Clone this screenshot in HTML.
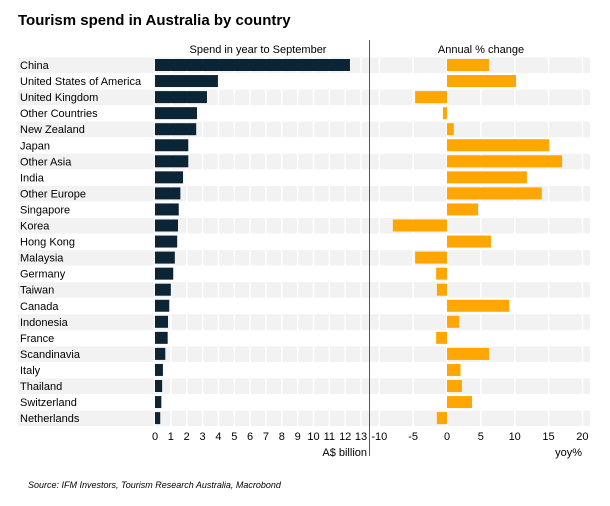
<!DOCTYPE html>
<html><head><meta charset="utf-8"><style>
body{margin:0;background:#fff;font-family:"Liberation Sans",sans-serif}
</style></head><body>
<svg id="c" width="610" height="501" style="font-family:'Liberation Sans',sans-serif">
<text x="18" y="25" font-size="15" font-weight="bold" fill="#000">Tourism spend in Australia by country</text>
<text x="258" y="53" font-size="11" text-anchor="middle">Spend in year to September</text>
<text x="481" y="53" font-size="11" text-anchor="middle">Annual % change</text>
<text x="367" y="456" font-size="11" text-anchor="end">A$ billion</text>
<text x="582" y="456" font-size="11" text-anchor="end">yoy%</text>
<text x="28" y="488" font-size="9" font-style="italic">Source: IFM Investors, Tourism Research Australia, Macrobond</text>
<g id="g"></g>
<line x1="369.5" y1="40" x2="369.5" y2="456" stroke="#555"/>
</svg>
<script>
const countries=["China","United States of America","United Kingdom","Other Countries","New Zealand","Japan","Other Asia","India","Other Europe","Singapore","Korea","Hong Kong","Malaysia","Germany","Taiwan","Canada","Indonesia","France","Scandinavia","Italy","Thailand","Switzerland","Netherlands"];
const spend=[12.3,3.97,3.28,2.65,2.6,2.1,2.1,1.77,1.6,1.5,1.45,1.4,1.25,1.15,1.0,0.9,0.82,0.8,0.65,0.5,0.45,0.4,0.33];
const yoy=[6.2,10.2,-4.7,-0.6,1.0,15.1,17.0,11.8,14.0,4.6,-8.0,6.5,-4.7,-1.6,-1.5,9.2,1.8,-1.6,6.2,2.0,2.2,3.7,-1.5];
const leftTicks=[0,1,2,3,4,5,6,7,8,9,10,11,12,13];
const rightTicks=[-10,-5,0,5,10,15,20];
const xL=v=>155+v*15.85, xR=v=>447+v*6.77, yRow=i=>65+i*16.05;
const g=document.getElementById('g'),NS="http://www.w3.org/2000/svg";
function mk(t,a){const e=document.createElementNS(NS,t);for(const k in a)e.setAttribute(k,a[k]);g.appendChild(e);return e;}
countries.forEach((c,i)=>{if(i%2==0){const b=mk('rect',{x:18,y:yRow(i)-7.5,width:572,height:15.5,fill:'#f2f2f2'});

}});
leftTicks.forEach(t=>{const l=mk('line',{x1:xL(t),x2:xL(t),y1:57,y2:426,stroke:'#fff','stroke-width':1.5});


const tx=mk('text',{x:xL(t),y:440,'font-size':11,'text-anchor':'middle'});tx.textContent=t;

});
rightTicks.forEach(t=>{const l=mk('line',{x1:xR(t),x2:xR(t),y1:57,y2:426,stroke:'#fff','stroke-width':1.5});


const tx=mk('text',{x:xR(t),y:440,'font-size':11,'text-anchor':'middle'});tx.textContent=t;

});
countries.forEach((c,i)=>{const y=yRow(i);
const tx=mk('text',{x:20,y:y+4,'font-size':11});tx.textContent=c;


const b=mk('rect',{x:xL(0),y:y-6,width:xL(spend[i])-xL(0),height:12,fill:'#0b2537'});


const v=yoy[i],x0=Math.min(xR(0),xR(v));
const r=mk('rect',{x:x0,y:y-6,width:Math.abs(xR(v)-xR(0)),height:12,fill:'#ffa600'});

});
</script>
</body></html>
